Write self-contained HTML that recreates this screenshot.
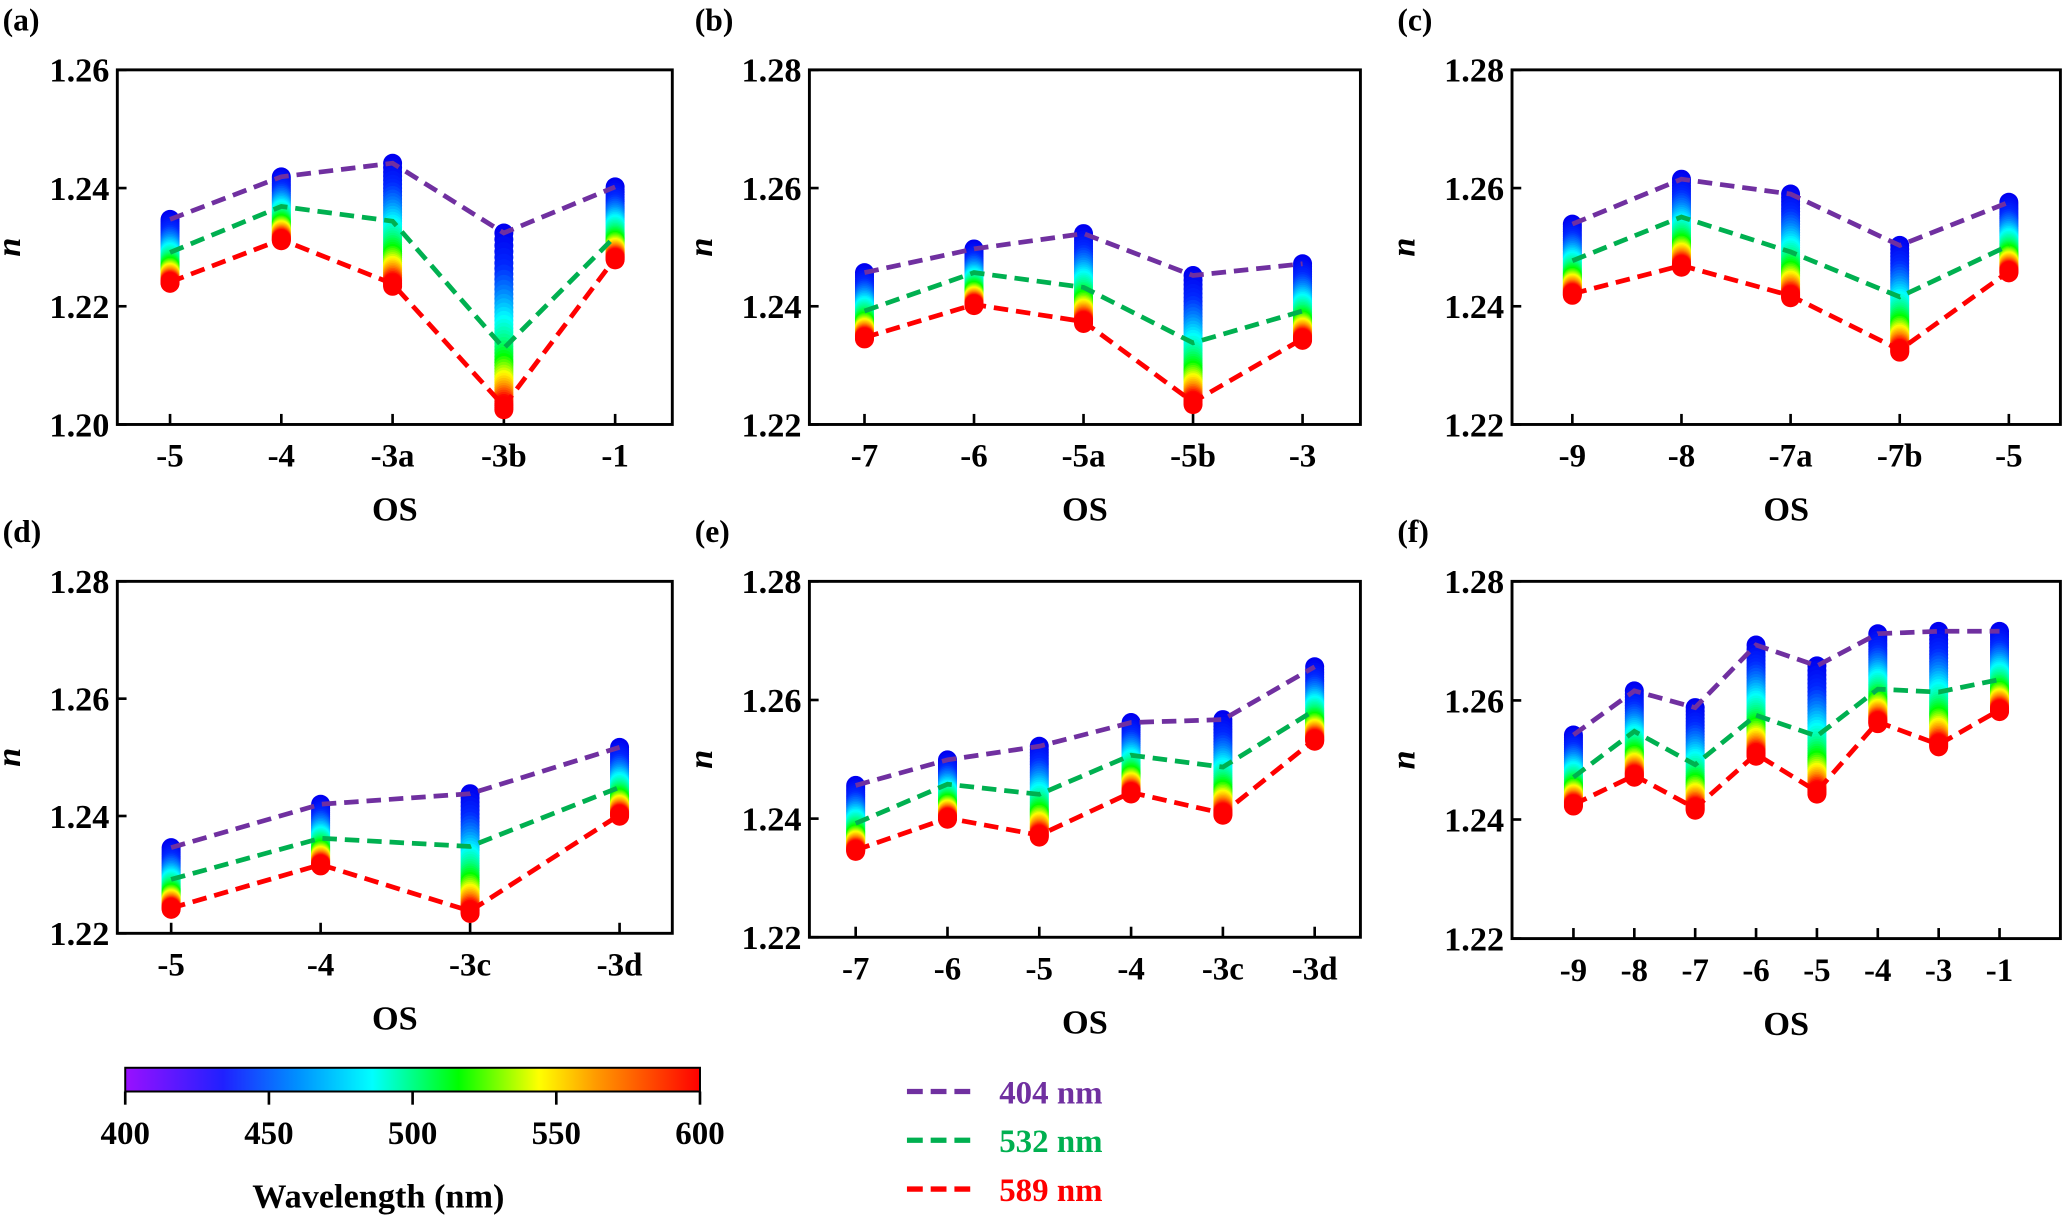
<!DOCTYPE html>
<html><head><meta charset="utf-8">
<style>
html,body{margin:0;padding:0;background:#fff;}
svg{display:block;}
svg text{font-family:"Liberation Serif","DejaVu Serif",serif;font-weight:bold;}
</style></head>
<body>
<svg id="fig" width="2067" height="1217" viewBox="0 0 1568 923.2" preserveAspectRatio="none" xmlns="http://www.w3.org/2000/svg" font-family="Liberation Serif, serif" font-weight="bold">
<defs>
<linearGradient id="wl" x1="0" x2="1" y1="0" y2="0">
<stop offset="0" stop-color="#9a10ff"/>
<stop offset="0.17" stop-color="#2020ff"/>
<stop offset="0.3" stop-color="#0090ff"/>
<stop offset="0.43" stop-color="#00ffff"/>
<stop offset="0.58" stop-color="#00ff00"/>
<stop offset="0.72" stop-color="#ffff00"/>
<stop offset="0.82" stop-color="#ff9900"/>
<stop offset="1" stop-color="#ff0000"/>
</linearGradient>
</defs>
<g id="panels"></g>
<g>
<rect x="95" y="810" width="436" height="18" fill="url(#wl)" stroke="#000" stroke-width="1.5"/>
<g id="cbticks"></g>
<text x="287" y="916" font-size="26" text-anchor="middle">Wavelength (nm)</text>
</g>
<g>
<g><line x1="688" y1="828" x2="740" y2="828" stroke="#7030a0" stroke-width="4" stroke-dasharray="12,6"/><text x="758" y="837" font-size="25" fill="#7030a0">404 nm</text></g>
<g><line x1="688" y1="865" x2="740" y2="865" stroke="#00b050" stroke-width="4" stroke-dasharray="12,6"/><text x="758" y="874" font-size="25" fill="#00b050">532 nm</text></g>
<g><line x1="688" y1="902" x2="740" y2="902" stroke="#ff0000" stroke-width="4" stroke-dasharray="12,6"/><text x="758" y="911" font-size="25" fill="#ff0000">589 nm</text></g>
</g>
</svg>
<script>
// ---- data ----
const catsA = ["-5","-4","-3a","-3b","-1"];
const n404A = [1.2347,1.2419,1.2442,1.2324,1.2402];
const n532A = [1.2291,1.2369,1.2344,1.2129,1.2318];
const n589A = [1.2241,1.2313,1.2238,1.2031,1.2281];

const catsB = ["-7","-6","-5a","-5b","-3"];
const n404B = [1.2457,1.2497,1.2523,1.2452,1.2472];
const n532B = [1.2392,1.2457,1.2432,1.2338,1.2392];
const n589B = [1.2347,1.2403,1.2374,1.2238,1.2345];

const catsC = ["-9","-8","-7a","-7b","-5"];
const n404C = [1.2539,1.2615,1.2590,1.2503,1.2576];
const n532C = [1.2477,1.2551,1.2492,1.2416,1.2503];
const n589C = [1.2421,1.2469,1.2418,1.2326,1.2459];

const catsD = ["-5","-4","-3c","-3d"];
const n404D = [1.2346,1.2420,1.2438,1.2517];
const n532D = [1.2292,1.2362,1.2348,1.2449];
const n589D = [1.2243,1.2317,1.2238,1.2402];

const catsE = ["-7","-6","-5","-4","-3c","-3d"];
const n404E = [1.2456,1.2499,1.2522,1.2562,1.2567,1.2656];
const n532E = [1.2392,1.2458,1.2441,1.2507,1.2487,1.2583];
const n589E = [1.2347,1.2401,1.2372,1.2444,1.2409,1.2533];

const catsF = ["-9","-8","-7","-6","-5","-4","-3","-1"];
const n404F = [1.2542,1.2616,1.2588,1.2693,1.2658,1.2712,1.2716,1.2716];
const n532F = [1.2471,1.2548,1.2492,1.2575,1.2540,1.2619,1.2614,1.2635];
const n589F = [1.2425,1.2474,1.2419,1.2510,1.2447,1.2564,1.2526,1.2584];

const yTicksA = ["1.20","1.22","1.24","1.26"];
const yTicksOther = ["1.22","1.24","1.26","1.28"];
const cbTicks = [400,450,500,550,600];

const panels = [
 {id:"a",cats:catsA,s:[n404A,n532A,n589A],ymin:1.20,ymax:1.26,ticks:yTicksA,L:89,R:510,T:53,B:322,fx:0.095,lx:0.897},
 {id:"b",cats:catsB,s:[n404B,n532B,n589B],ymin:1.22,ymax:1.28,ticks:yTicksOther,L:614,R:1032,T:53,B:322,fx:0.1,lx:0.895},
 {id:"c",cats:catsC,s:[n404C,n532C,n589C],ymin:1.22,ymax:1.28,ticks:yTicksOther,L:1147,R:1563,T:53,B:322,fx:0.11,lx:0.906},
 {id:"d",cats:catsD,s:[n404D,n532D,n589D],ymin:1.22,ymax:1.28,ticks:yTicksOther,L:89,R:510,T:441,B:708,fx:0.097,lx:0.905},
 {id:"e",cats:catsE,s:[n404E,n532E,n589E],ymin:1.22,ymax:1.28,ticks:yTicksOther,L:614,R:1032,T:441,B:711,fx:0.084,lx:0.917},
 {id:"f",cats:catsF,s:[n404F,n532F,n589F],ymin:1.22,ymax:1.28,ticks:yTicksOther,L:1147,R:1563,T:441,B:712,fx:0.112,lx:0.889}
];
const lineColors = ["#7030a0","#00b050","#ff0000"];
const lineNames = ["line-404nm","line-532nm","line-589nm"];

const NS="http://www.w3.org/2000/svg";
function mk(tag,attrs,parent){const e=document.createElementNS(NS,tag);for(const k in attrs)e.setAttribute(k,attrs[k]);parent.appendChild(e);return e;}

// wavelength -> colour for dots
const stops=[[404,[0,0,240]],[430,[0,40,255]],[450,[0,128,255]],[475,[0,255,255]],[500,[0,255,128]],[520,[0,255,0]],[545,[255,255,0]],[565,[255,140,0]],[585,[255,0,0]],[600,[255,0,0]]];
function wlColor(w){for(let i=0;i<stops.length-1;i++){const a=stops[i],b=stops[i+1];if(w>=a[0]&&w<=b[0]){const t=(w-a[0])/(b[0]-a[0]);const c=a[1].map((v,j)=>Math.round(v+(b[1][j]-v)*t));return `rgb(${c[0]},${c[1]},${c[2]})`;}}return "red";}

const root=document.getElementById("panels");
panels.forEach(p=>{
  const g=mk("g",{},root);
  
  
  const yS=v=>p.B-(v-p.ymin)/(p.ymax-p.ymin)*(p.B-p.T);
  const W=p.R-p.L, n=p.cats.length;
  const xS=i=>p.L+W*(p.fx+(p.lx-p.fx)*(n===1?0:i/(n-1)));
  const lt=mk("text",{x:p.L-87,y:p.T-30,"font-size":24},g);
  lt.textContent="("+p.id+")";
  
  
  p.ticks.forEach(t=>{
    const y=yS(parseFloat(t));
    mk("line",{x1:p.L,x2:p.L+7,y1:y,y2:y,stroke:"#000","stroke-width":2},g);
    const tx=mk("text",{x:p.L-6,y:y+9,"font-size":26,"text-anchor":"end"},g);
    tx.textContent=t;
    
    
  });
  const yt=mk("text",{x:0,y:0,"font-size":26,"font-style":"italic","text-anchor":"middle",transform:`translate(${p.L-74},${(p.T+p.B)/2}) rotate(-90)`},g);
  yt.textContent="n";
  
  
  p.cats.forEach((c,i)=>{
    const x=xS(i);
    mk("line",{x1:x,x2:x,y1:p.B,y2:p.B-8,stroke:"#000","stroke-width":2},g);
    const tx=mk("text",{x:x,y:p.B+32,"font-size":25,"text-anchor":"middle"},g);
    tx.textContent=c;
    
    
  });
  const xt=mk("text",{x:(p.L+p.R)/2,y:p.B+73,"font-size":26,"text-anchor":"middle"},g);
  xt.textContent="OS";
  
  
  p.cats.forEach((c,i)=>{
    const n1=p.s[0][i], n2=p.s[2][i];
    const B=(n1-n2)/(1/(404*404)-1/(589*589)); const A=n2-B/(589*589);
    const col=mk("g",{},g);
    
    
    for(let w=404;w<=596;w+=4){
      const nv=A+B/(w*w);
      const d=mk("circle",{cx:xS(i),cy:yS(nv),r:7.2,fill:wlColor(w)},col);
      
      
    }
  });
  p.s.forEach((arr,k)=>{
    const pts=arr.map((v,i)=>xS(i).toFixed(1)+","+yS(v).toFixed(1)).join(" ");
    const pl=mk("polyline",{points:pts,fill:"none",stroke:lineColors[k],"stroke-width":3.6,"stroke-dasharray":"11,6"},g);
    
    
  });
  const fr=mk("rect",{x:p.L,y:p.T,width:W,height:p.B-p.T,fill:"none",stroke:"#000","stroke-width":2.2},g);
  
  
});
const cb=document.getElementById("cbticks");
cbTicks.forEach(t=>{
  const x=95+(t-400)/200*436;
  mk("line",{x1:x,x2:x,y1:828,y2:838,stroke:"#000","stroke-width":2},cb);
  const tx=mk("text",{x:x,y:868,"font-size":25,"text-anchor":"middle"},cb);
  tx.textContent=t;
  
  
});
</script>
</body></html>
